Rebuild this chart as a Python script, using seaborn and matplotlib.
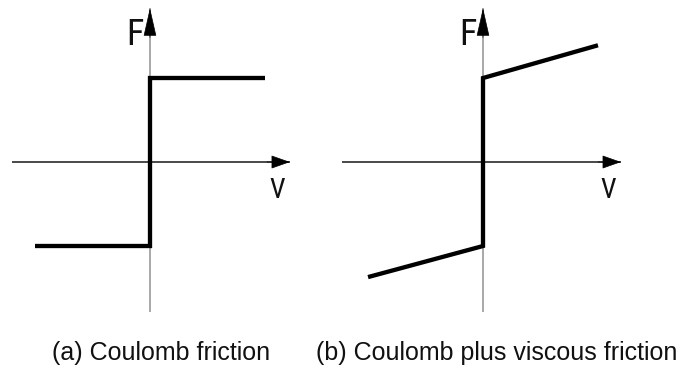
import numpy as np
import pandas as pd
import matplotlib
matplotlib.use("Agg")
import matplotlib.pyplot as plt
from matplotlib.patches import ArrowStyle
import seaborn as sns

# Friction models: force F against velocity v
coulomb_v = [-1.0, 0.0, 0.0, 1.0]
coulomb_F = [-1.0, -1.0, 1.0, 1.0]
viscous_v = [-1.0, 0.0, 0.0, 1.0]
viscous_F = [-1.37, -1.0, 1.0, 1.39]

captions = ["(a) Coulomb friction", "(b) Coulomb plus viscous friction"]
axis_labels = ["V", "F"]

sns.set_theme(style="white")
plt.rcParams["font.family"] = ["Liberation Sans", "DejaVu Sans"]

narrow = ["Liberation Sans Narrow", "Roboto Condensed", "Open Sans Condensed",
          "DejaVu Sans Condensed", "Liberation Sans"]

fig = plt.figure(figsize=(6.88, 3.72), dpi=100)
ax1 = fig.add_axes([0.0, 0.0, 0.5, 1.0])
ax2 = fig.add_axes([0.5, 0.0, 0.5, 1.0])

panels = [
    (ax1, coulomb_v, coulomb_F, (-1.304, 1.687), (-1.20, 1.217)),
    (ax2, viscous_v, viscous_F, (-1.209, 1.783), (-1.226, 1.20)),
]

for ax, v, F, xlim, hspan in panels:
    ax.set_xlim(*xlim)
    ax.set_ylim(-2.5, 1.929)
    ax.axis("off")

    # velocity axis (dark) and force axis (light grey)
    ax.plot([hspan[0], hspan[1]], [0, 0], color="#2a2a2a", lw=1.2,
            solid_capstyle="butt", clip_on=False, zorder=1)
    ax.plot([0, 0], [-1.786, 1.833], color="#9a9a9a", lw=1.2,
            solid_capstyle="butt", clip_on=False, zorder=1)

    # arrow heads
    ax.annotate("", xy=(hspan[1], 0), xytext=(hspan[1] - 0.2, 0),
                arrowprops=dict(arrowstyle=ArrowStyle("-|>", head_length=12.2, head_width=4.3),
                                color="black", lw=0.5, shrinkA=0, shrinkB=0,
                                mutation_scale=1),
                annotation_clip=False, zorder=4)
    ax.annotate("", xy=(0, 1.833), xytext=(0, 1.833 - 0.35),
                arrowprops=dict(arrowstyle=ArrowStyle("-|>", head_length=18.5, head_width=4.2),
                                color="black", lw=0.5, shrinkA=0, shrinkB=0,
                                mutation_scale=1),
                annotation_clip=False, zorder=4)

    # friction characteristic
    df = pd.DataFrame({"v": v, "F": F})
    sns.lineplot(data=df, x="v", y="F", sort=False, estimator=None, ax=ax,
                 color="black", lw=3.1, zorder=3)
    for line in ax.lines[-1:]:
        line.set_solid_joinstyle("miter")
        line.set_solid_capstyle("butt")

    ax.text(hspan[1] - 0.11, -0.345, axis_labels[0], ha="center", va="center",
            fontsize=20, family=narrow, fontstretch="condensed", color="#111111")
    ax.text(-0.13, 1.51, axis_labels[1], ha="center", va="center",
            fontsize=26, family=narrow, fontstretch="condensed", color="#111111")

fig.text(161 / 688, 1 - 360 / 372, captions[0], ha="center", va="baseline",
         fontsize=18, color="#111111")
fig.text(497 / 688, 1 - 360 / 372, captions[1], ha="center", va="baseline",
         fontsize=18, color="#111111")

fig.savefig("out.png", dpi=100)
